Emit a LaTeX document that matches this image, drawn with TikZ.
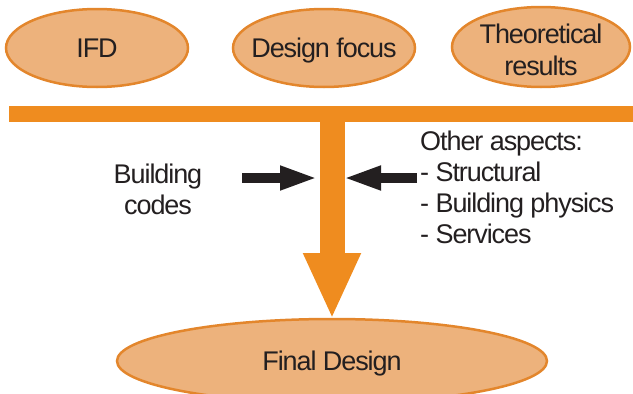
\documentclass[tikz,border=0pt]{standalone}
\usepackage{fontspec}
\setmainfont{Liberation Sans}[LetterSpace=-4]
\usetikzlibrary{shapes.geometric,arrows.meta}
\definecolor{ellfill}{HTML}{EDB27C}
\definecolor{elldraw}{HTML}{E3862C}
\definecolor{barorange}{HTML}{EF8C1F}
\definecolor{darkarrow}{HTML}{231F20}
\definecolor{txtcol}{HTML}{231F20}
\tikzset{
  ellbox/.style={ellipse, draw=elldraw, fill=ellfill, line width=2.5pt, inner sep=0pt, outer sep=0pt},
  txt/.style={text=txtcol, font=\fontsize{27}{31}\selectfont, inner sep=0pt},
  inlabel/.style={text=txtcol, font=\fontsize{27}{32}\selectfont, align=center, inner sep=0pt},
  barbox/.style={rectangle, fill=barorange, inner sep=0pt, outer sep=0pt},
  bigarrow/.style={draw=barorange, line width=25pt, -{Triangle[width=53pt,length=66pt]}, barorange},
  pusharrow/.style={draw=darkarrow, line width=10pt, -{Triangle[width=22pt,length=38pt]}, darkarrow}
}
\begin{document}
\begin{tikzpicture}[x=1pt,y=-1pt]
\useasboundingbox (0,0) rectangle (633,394);
\clip (0,0) rectangle (633,394);
% top ellipses
\node[ellbox, minimum width=182pt, minimum height=78pt,
      label={[inlabel]center:IFD}] (ifd) at (97,48) {};
\node[ellbox, minimum width=182pt, minimum height=78pt,
      label={[inlabel, yshift=-3pt]center:Design focus}] (focus) at (324,48) {};
\node[ellbox, minimum width=178pt, minimum height=80pt,
      label={[inlabel, yshift=-3pt]center:Theoretical\\results}] (theory) at (541,47) {};
% bar
\node[barbox, minimum width=624pt, minimum height=16pt, anchor=north west] (bar) at (9,106) {};
% final design
\node[ellbox, minimum width=430pt, minimum height=84pt,
      label={[inlabel, yshift=-3pt]center:Final Design}] (final) at (332,361) {};
% big arrow
\draw[bigarrow] (bar.south -| final.north) -- (final.north);
% side arrows
\coordinate (leftstart) at (242,178);
\coordinate (leftend) at (318,178);
\coordinate (rightstart) at (417,178);
\coordinate (rightend) at (343,178);
\draw[pusharrow] (leftstart) -- (leftend);
\draw[pusharrow] (rightstart) -- (rightend);
% texts
\node[txt, align=center] (codes) at (158,189) {Building\\codes};
\node[txt, align=left, anchor=north west] (aspects) at (420,131) {Other aspects:\\- Structural\\- Building physics\\- Services};
\end{tikzpicture}
\end{document}
